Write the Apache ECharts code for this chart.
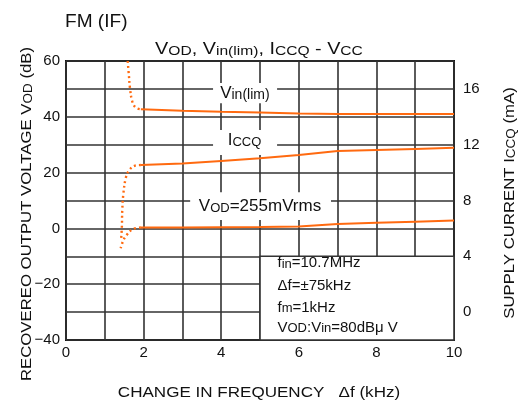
<!DOCTYPE html>
<html>
<head>
<meta charset="utf-8">
<script src="https://cdn.jsdelivr.net/npm/echarts@6/dist/echarts.min.js"></script>
<style>
  html, body { margin: 0; padding: 0; background: #fff; }
  #chart { width: 523px; height: 408px; }
</style>
</head>
<body>
<div id="chart"></div>
<script>
// Tick labels shown on each axis
const freqTicks = [0, 2, 4, 6, 8, 10];
const vodTicks = [-40, -20, 0, 20, 40, 60];
const iccqTicks = [0, 4, 8, 12, 16];

// Vin(lim) (dB), solid part and the dotted lead-in below 2 kHz
const vinLimFreq = [1.93, 3, 4, 5, 6, 7, 8, 9, 10];
const vinLimDb = [42.7, 42.2, 41.8, 41.5, 41.2, 41.0, 41.0, 41.0, 41.0];
const vinLimTailFreq = [1.59, 1.62, 1.65, 1.71, 1.80, 1.93];
const vinLimTailDb = [60, 55, 50.2, 45.4, 43.3, 42.7];

// ICCQ supply current (mA), right axis
const iccqFreq = [1.93, 3, 4, 5, 6, 7, 8, 9, 10];
const iccqMa = [10.54, 10.66, 10.84, 11.02, 11.26, 11.54, 11.62, 11.70, 11.78];
const iccqTailFreq = [1.93, 1.78, 1.62, 1.54, 1.48, 1.45, 1.44, 1.42];
const iccqTailMa = [10.54, 10.50, 10.14, 9.60, 8.52, 7.32, 6.12, 5.20];

// VOD recovered output (dB)
const vodFreq = [1.93, 3, 4, 5, 6, 7, 8, 9, 10];
const vodDb = [0.3, 0.3, 0.4, 0.5, 0.7, 1.6, 2.0, 2.4, 2.8];
const vodTailFreq = [1.93, 1.73, 1.56, 1.48, 1.41];
const vodTailDb = [0.3, -0.2, -2.4, -4.2, -7.1];

const FONT = '"Liberation Sans", Arial, sans-serif';
const ORANGE = '#ff6a10';
const GRIDC = '#333';

const pairs = (xs, ys) => xs.map((x, i) => [x, ys[i]]);
const minus = v => (v < 0 ? '\u2212' + Math.abs(v) : String(v));

const chart = echarts.init(document.getElementById('chart'), null, { renderer: 'canvas' });

const solid = { color: ORANGE, width: 2 };
const dotted = { color: ORANGE, width: 2.4, type: [2, 3] };

chart.setOption({
  animation: false,
  grid: { left: 66, right: 69, top: 61, bottom: 68, show: true, borderColor: '#111', borderWidth: 2 },
  xAxis: {
    type: 'value', min: 0, max: 10, interval: 1,
    axisLine: { show: false }, axisTick: { show: false },
    splitLine: { show: true, lineStyle: { color: GRIDC, width: 1.6 } },
    axisLabel: {
      margin: 5, fontSize: 15, color: '#111', fontFamily: FONT,
      formatter: v => (freqTicks.includes(v) ? String(v) : '')
    }
  },
  yAxis: [
    {
      type: 'value', min: -40, max: 60, interval: 10,
      axisLine: { show: false }, axisTick: { show: false },
      splitLine: { show: true, lineStyle: { color: GRIDC, width: 1.6 } },
      axisLabel: {
        margin: 6, fontSize: 15, color: '#111', fontFamily: FONT,
        formatter: v => (vodTicks.includes(v) ? minus(v) : '')
      }
    },
    {
      type: 'value', min: -2, max: 18, interval: 2, position: 'right',
      axisLine: { show: false }, axisTick: { show: false },
      splitLine: { show: false },
      axisLabel: {
        margin: 9, fontSize: 15, color: '#111', fontFamily: FONT,
        formatter: v => (iccqTicks.includes(v) ? String(v) : '')
      }
    }
  ],
  series: [
    { type: 'line', yAxisIndex: 0, data: pairs(vinLimFreq, vinLimDb), showSymbol: false, lineStyle: solid },
    { type: 'line', yAxisIndex: 0, data: pairs(vinLimTailFreq, vinLimTailDb), showSymbol: false, smooth: 0.4, lineStyle: dotted },
    { type: 'line', yAxisIndex: 1, data: pairs(iccqFreq, iccqMa), showSymbol: false, lineStyle: solid },
    { type: 'line', yAxisIndex: 1, data: pairs(iccqTailFreq, iccqTailMa), showSymbol: false, smooth: 0.4, lineStyle: dotted },
    { type: 'line', yAxisIndex: 0, data: pairs(vodFreq, vodDb), showSymbol: false, lineStyle: solid },
    { type: 'line', yAxisIndex: 0, data: pairs(vodTailFreq, vodTailDb), showSymbol: false, smooth: 0.4, lineStyle: dotted }
  ]
});

// Annotations placed in data coordinates (kHz, dB)
const px = (x, y) => chart.convertToPixel({ gridIndex: 0 }, [x, y]);

const big = (s) => ({ fontSize: s, fontFamily: FONT, fill: '#111', verticalAlign: 'bottom' });
const rich = (b, s) => ({ b: big(b), s: big(s) });

function whiteBox(x0, y0, x1, y1, stroke) {
  const a = px(x0, y0), b = px(x1, y1);
  return {
    type: 'rect', z: 1,
    shape: { x: a[0], y: a[1], width: b[0] - a[0], height: b[1] - a[1] },
    style: stroke ? { fill: '#fff', stroke: GRIDC, lineWidth: 1.6 } : { fill: '#fff' }
  };
}

function label(x, y, text, b, s, align) {
  const p = px(x, y);
  return {
    type: 'text', z: 3, x: p[0], y: p[1],
    style: { text, rich: rich(b, s), align: align || 'center', verticalAlign: 'middle' }
  };
}

const graphics = [
  whiteBox(3.79, 52.1, 5.44, 44.9),
  label(4.61, 48.3, '{b|V}{s|in(lim)}', 17, 14),
  whiteBox(3.79, 35.3, 5.44, 26.3),
  label(4.6, 31.4, '{b|I}{s|CCQ}', 17, 13),
  whiteBox(3.2, 13, 6.83, 3),
  label(5.0, 8.0, '{b|V}{s|OD}{b|=255mVrms}', 17, 13),
  whiteBox(5, -10, 10, -40, true),
  label(5.45, -12.5, '{b|f}{s|in}{b|=10.7MHz}', 15, 13, 'left'),
  label(5.45, -20.5, '{b|\u0394f=\u00b175kHz}', 15, 13, 'left'),
  label(5.45, -28.4, '{b|f}{s|m}{b|=1kHz}', 15, 13, 'left'),
  label(5.45, -35.6, '{b|V}{s|OD}{b|:V}{s|in}{b|=80dB\u03bc V}', 15, 13, 'left'),
  // Headings
  {
    type: 'text', x: 65, y: 22, scaleX: 1.06,
    style: { text: 'FM (IF)', font: '18px ' + FONT, fill: '#111', align: 'left', verticalAlign: 'middle' }
  },
  {
    type: 'text', x: 259, y: 49, scaleX: 1.2,
    style: {
      text: '{b|V}{s|OD}{b|, V}{s|in(lim)}{b|, I}{s|CCQ}{b| - V}{s|CC}',
      rich: rich(16.5, 13), align: 'center', verticalAlign: 'middle'
    }
  },
  // Axis names
  {
    type: 'text', x: 27, y: 214, rotation: Math.PI / 2, scaleX: 1.08,
    style: {
      text: '{b|RECOVEREO OUTPUT VOLTAGE V}{s|OD}{b| (dB)}',
      rich: rich(15.5, 12.5), align: 'center', verticalAlign: 'middle'
    }
  },
  {
    type: 'text', x: 510, y: 203, rotation: Math.PI / 2, scaleX: 1.08,
    style: {
      text: '{b|SUPPLY CURRENT I}{s|CCQ}{b| (mA)}',
      rich: rich(15.5, 12.5), align: 'center', verticalAlign: 'middle'
    }
  },
  {
    type: 'text', x: 259, y: 393, scaleX: 1.1,
    style: {
      text: 'CHANGE IN FREQUENCY   \u0394f (kHz)',
      font: '15.5px ' + FONT, fill: '#111', align: 'center', verticalAlign: 'middle'
    }
  }
];

chart.setOption({ graphic: graphics });
</script>
</body>
</html>
